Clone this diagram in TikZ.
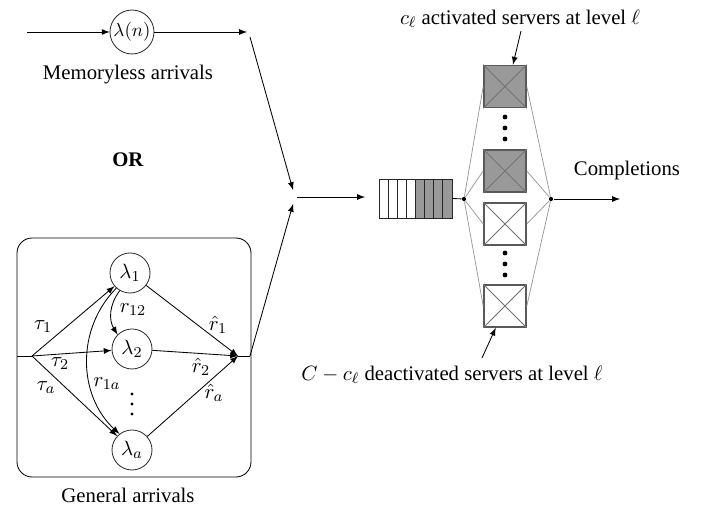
\documentclass[tikz,border=0pt]{standalone}
\usepackage{amsmath,amssymb}
\usepackage{fontspec}
\setmainfont{Liberation Serif}
\usetikzlibrary{shapes, calc, arrows}

\definecolor{srvfill}{gray}{0.6}
\definecolor{srvedge}{gray}{0.35}
\definecolor{srvx}{gray}{0.45}
\definecolor{linkgray}{gray}{0.6}

\tikzset{
	station/.style={circle, draw=black!80, inner sep=0pt, minimum size=21.2pt},
	server/.style={rectangle, draw=srvedge, line width=0.8pt, minimum size=22.3pt, inner sep=0pt},
	slot/.style={rectangle, draw=black!85, minimum width=4.84pt, minimum height=20.7pt, inner sep=0pt},
	junction/.style={circle, fill=black, inner sep=0pt, minimum size=2.2pt},
	vdot/.style={circle, fill=black, inner sep=0pt, minimum size=2.6pt},
	link/.style={draw=linkgray, line width=0.4pt},
}

\begin{document}
\begin{tikzpicture}[x=0.53pt, y=-0.53pt, >=latex, line width=0.45pt,
	every node/.style={font=\fontsize{11}{13}\selectfont}]
	\useasboundingbox (0,0) rectangle (702,508);

	% memoryless arrivals
	\coordinate (min) at (27,32);
	\node[station, minimum size=23.3pt, font=\fontsize{10}{12}\selectfont] (mem) at (132,32) {$\lambda(n)$};
	\coordinate (mout) at (247,32);
	\node[] (memlab) at (128,75) {Memoryless arrivals};
	\draw[->] (min) -- (mem);
	\draw[->] (mem) -- (mout);

	\node[] (or) at (128,160) {\textbf{OR}};

	% general arrivals
	\draw[rounded corners=8pt] (17,238) rectangle (251,477);
	\node[] (genlab) at (128,495) {General arrivals};

	\node[station] (l1) at (130,273) {$\lambda_1$};
	\node[station] (l2) at (132,349) {$\lambda_2$};
	\node[station] (la) at (132,450) {$\lambda_a$};
	\foreach \y [count=\k] in {394,404,414}
		\node[vdot, minimum size=1.7pt] (gd\k) at (132,\y) {};

	\coordinate (gin) at (17,356);
	\coordinate (split) at (32,356);
	\coordinate (merge) at (238,356);
	\coordinate (gout) at (250,356);

	\draw (gin) -- (split);
	\draw[->] (split) -- (l1);
	\draw[->] (split) -- (l2);
	\draw[->] (split) -- (la);
	\draw[->] (l1) -- (merge);
	\draw[->] (l2) -- (merge);
	\draw[->] (la) -- (merge);
	\draw (merge) -- (gout);
	\draw[->] (l1.240) to[bend right=35] (l2.135);
	\draw[->] (l1.228) to[bend right=46] (la.128);

	\node[] (t1) at (43,327) {$\tau_1$};
	\node[] (t2) at (60,364) {$\tau_2$};
	\node[] (ta) at (46,388) {$\tau_a$};
	\node[] (r12) at (133,310) {$r_{12}$};
	\node[] (r1a) at (107,384) {$r_{1a}$};
	\node[] (rh1) at (218,325) {$\hat{r}_1$};
	\node[] (rh2) at (201,367) {$\hat{r}_2$};
	\node[] (rha) at (214,393) {$\hat{r}_a$};

	% join
	\coordinate (j1) at (293,190);
	\coordinate (j2) at (293,204);
	\coordinate (jout) at (297,197);
	\coordinate (qarr) at (365,197);
	\draw[->] (250,37) -- (j1);
	\draw[->] (gout) -- (j2);
	\draw[->] (jout) -- (qarr);

	% queue
	\foreach \i in {1,...,4}
		\node[slot] (q\i) at ({379+9.125*(\i-0.5)},198.5) {};
	\foreach \i in {5,...,8}
		\node[slot, fill=srvfill] (q\i) at ({379+9.125*(\i-0.5)},198.5) {};

	\node[junction] (qin) at (464,199) {};
	\node[junction] (qout) at (551,199) {};
	\draw (q8.east) -- (qin);

	% servers
	\node[server, fill=srvfill] (s1) at (505,86.5) {};
	\node[server, fill=srvfill] (s2) at (505,171) {};
	\node[server, fill=white] (s3) at (505,224) {};
	\node[server, fill=white] (s4) at (505,306) {};

	\foreach \s in {s1,s2,s3,s4} {
		\draw[link] (qin) -- (\s.west);
		\draw[link] (\s.east) -- (qout);
		\draw[srvx] (\s.north west) -- (\s.south east) (\s.north east) -- (\s.south west);
	}

	\foreach \y [count=\k] in {117,128,139}
		\node[vdot] (da\k) at (505,\y) {};
	\foreach \y [count=\k] in {253,264,275}
		\node[vdot] (db\k) at (505,\y) {};

	\coordinate (done) at (620,199);
	\draw[->] (qout) -- (done);
	\node[] (donelab) at (627,171) {Completions};

	% labels
	\node[] (actlab) at (520,19) {$c_\ell$ activated servers at level $\ell$};
	\coordinate (acttail) at (521,31);
	\draw[->] (acttail) -- (s1.70);

	\node[] (deaclab) at (452,375) {$C-c_\ell$ deactivated servers at level $\ell$};
	\coordinate (deactail) at (482,358);
	\draw[->] (deactail) -- (s4.247);
\end{tikzpicture}
\end{document}
